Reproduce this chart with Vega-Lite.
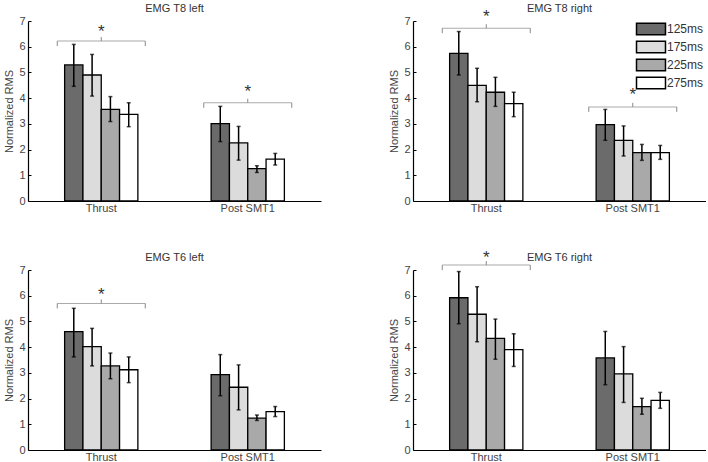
{
  "$schema": "https://vega.github.io/schema/vega-lite/v6.json",
  "padding": {"left": 3, "top": 2, "right": 0, "bottom": 0},
  "background": "white",
  "datasets": {
    "bars": [
      {"p": "T8L", "g": "Thrust", "c": "125ms", "m": 5.29, "lo": 4.46, "hi": 6.09},
      {"p": "T8L", "g": "Thrust", "c": "175ms", "m": 4.9, "lo": 4.08, "hi": 5.7},
      {"p": "T8L", "g": "Thrust", "c": "225ms", "m": 3.56, "lo": 3.09, "hi": 4.06},
      {"p": "T8L", "g": "Thrust", "c": "275ms", "m": 3.37, "lo": 2.89, "hi": 3.82},
      {"p": "T8L", "g": "Post SMT1", "c": "125ms", "m": 3.01, "lo": 2.31, "hi": 3.68},
      {"p": "T8L", "g": "Post SMT1", "c": "175ms", "m": 2.26, "lo": 1.59, "hi": 2.9},
      {"p": "T8L", "g": "Post SMT1", "c": "225ms", "m": 1.26, "lo": 1.11, "hi": 1.37},
      {"p": "T8L", "g": "Post SMT1", "c": "275ms", "m": 1.63, "lo": 1.4, "hi": 1.85},
      {"p": "T8R", "g": "Thrust", "c": "125ms", "m": 5.74, "lo": 4.9, "hi": 6.59},
      {"p": "T8R", "g": "Thrust", "c": "175ms", "m": 4.5, "lo": 3.86, "hi": 5.16},
      {"p": "T8R", "g": "Thrust", "c": "225ms", "m": 4.23, "lo": 3.68, "hi": 4.81},
      {"p": "T8R", "g": "Thrust", "c": "275ms", "m": 3.79, "lo": 3.28, "hi": 4.23},
      {"p": "T8R", "g": "Post SMT1", "c": "125ms", "m": 2.97, "lo": 2.36, "hi": 3.56},
      {"p": "T8R", "g": "Post SMT1", "c": "175ms", "m": 2.36, "lo": 1.75, "hi": 2.92},
      {"p": "T8R", "g": "Post SMT1", "c": "225ms", "m": 1.88, "lo": 1.58, "hi": 2.2},
      {"p": "T8R", "g": "Post SMT1", "c": "275ms", "m": 1.88, "lo": 1.62, "hi": 2.16},
      {"p": "T6L", "g": "Thrust", "c": "125ms", "m": 4.6, "lo": 3.62, "hi": 5.51},
      {"p": "T6L", "g": "Thrust", "c": "175ms", "m": 4.02, "lo": 3.27, "hi": 4.73},
      {"p": "T6L", "g": "Thrust", "c": "225ms", "m": 3.27, "lo": 2.77, "hi": 3.77},
      {"p": "T6L", "g": "Thrust", "c": "275ms", "m": 3.12, "lo": 2.62, "hi": 3.62},
      {"p": "T6L", "g": "Post SMT1", "c": "125ms", "m": 2.93, "lo": 2.11, "hi": 3.71},
      {"p": "T6L", "g": "Post SMT1", "c": "175ms", "m": 2.44, "lo": 1.56, "hi": 3.31},
      {"p": "T6L", "g": "Post SMT1", "c": "225ms", "m": 1.24, "lo": 1.15, "hi": 1.36},
      {"p": "T6L", "g": "Post SMT1", "c": "275ms", "m": 1.49, "lo": 1.3, "hi": 1.69},
      {"p": "T6R", "g": "Thrust", "c": "125ms", "m": 5.92, "lo": 4.91, "hi": 6.94},
      {"p": "T6R", "g": "Thrust", "c": "175ms", "m": 5.28, "lo": 4.21, "hi": 6.35},
      {"p": "T6R", "g": "Thrust", "c": "225ms", "m": 4.34, "lo": 3.53, "hi": 5.09},
      {"p": "T6R", "g": "Thrust", "c": "275ms", "m": 3.9, "lo": 3.25, "hi": 4.52},
      {"p": "T6R", "g": "Post SMT1", "c": "125ms", "m": 3.58, "lo": 2.54, "hi": 4.61},
      {"p": "T6R", "g": "Post SMT1", "c": "175ms", "m": 2.96, "lo": 1.85, "hi": 4.02},
      {"p": "T6R", "g": "Post SMT1", "c": "225ms", "m": 1.69, "lo": 1.39, "hi": 2.01},
      {"p": "T6R", "g": "Post SMT1", "c": "275ms", "m": 1.93, "lo": 1.62, "hi": 2.24}
    ],
    "sig": [
      {"p": "T8L", "g": "Thrust", "lv": 6.22, "ay": 6.77, "s": "*"},
      {"p": "T8L", "g": "Post SMT1", "lv": 3.82, "ay": 4.43, "s": "*"},
      {"p": "T8R", "g": "Thrust", "lv": 6.72, "ay": 7.35, "s": "*"},
      {"p": "T8R", "g": "Post SMT1", "lv": 3.66, "ay": 4.3, "s": "*"},
      {"p": "T6L", "g": "Thrust", "lv": 5.7, "ay": 6.22, "s": "*"},
      {"p": "T6R", "g": "Thrust", "lv": 7.19, "ay": 7.67, "s": "*"}
    ]
  },
  "columns": 2,
  "spacing": {"row": 69, "column": 92},
  "bounds": "flush",
  "resolve": {"legend": {"color": "independent"}},
  "concat": [
    {
      "title": {"text": "EMG T8 left", "offset": 1},
      "width": 293, "height": 180,
      "layer": [
        {"data": {"name": "bars"}, "transform": [{"filter": "datum.p == 'T8L'"}],
         "mark": {"type": "bar", "stroke": "black", "strokeWidth": 1.3},
         "encoding": {
           "x": {"field": "g", "type": "nominal", "sort": ["Thrust", "Post SMT1"], "scale": {"paddingInner": 0.5, "paddingOuter": 0.25}},
           "xOffset": {"field": "c", "type": "nominal", "scale": {"paddingInner": 0, "paddingOuter": 0}},
           "y": {"field": "m", "type": "quantitative", "scale": {"domain": [0, 7], "nice": false}, "axis": {"title": "Normalized RMS", "values": [0, 1, 2, 3, 4, 5, 6, 7]}},
           "color": {"field": "c", "type": "nominal", "scale": {"domain": ["125ms", "175ms", "225ms", "275ms"], "range": ["#6b6b6b", "#dcdcdc", "#a9a9a9", "#ffffff"]}, "legend": null}
         }},
        {"data": {"name": "bars"}, "transform": [{"filter": "datum.p == 'T8L'"}],
         "mark": {"type": "rule", "color": "black", "strokeWidth": 1.5},
         "encoding": {"x": {"field": "g", "type": "nominal", "sort": ["Thrust", "Post SMT1"]}, "xOffset": {"field": "c", "type": "nominal"}, "y": {"field": "lo", "type": "quantitative", "axis": {"title": "Normalized RMS", "values": [0, 1, 2, 3, 4, 5, 6, 7]}}, "y2": {"field": "hi"}}},
        {"data": {"name": "bars"}, "transform": [{"filter": "datum.p == 'T8L'"}],
         "mark": {"type": "tick", "color": "black", "size": 4, "thickness": 1.5},
         "encoding": {"x": {"field": "g", "type": "nominal", "sort": ["Thrust", "Post SMT1"]}, "xOffset": {"field": "c", "type": "nominal"}, "y": {"field": "lo", "type": "quantitative", "axis": {"title": "Normalized RMS", "values": [0, 1, 2, 3, 4, 5, 6, 7]}}}},
        {"data": {"name": "bars"}, "transform": [{"filter": "datum.p == 'T8L'"}],
         "mark": {"type": "tick", "color": "black", "size": 4, "thickness": 1.5},
         "encoding": {"x": {"field": "g", "type": "nominal", "sort": ["Thrust", "Post SMT1"]}, "xOffset": {"field": "c", "type": "nominal"}, "y": {"field": "hi", "type": "quantitative", "axis": {"title": "Normalized RMS", "values": [0, 1, 2, 3, 4, 5, 6, 7]}}}},
        {"data": {"name": "sig"}, "transform": [{"filter": "datum.p == 'T8L'"}],
         "layer": [
           {"mark": {"type": "tick", "color": "#888", "size": 88, "thickness": 1}},
           {"mark": {"type": "rule", "color": "#888", "strokeWidth": 1, "xOffset": -44, "y2Offset": 5}, "encoding": {"y2": {"field": "lv"}}},
           {"mark": {"type": "rule", "color": "#888", "strokeWidth": 1, "xOffset": 44, "y2Offset": 5}, "encoding": {"y2": {"field": "lv"}}},
           {"mark": {"type": "rule", "color": "#888", "strokeWidth": 1, "y2Offset": -4}, "encoding": {"y2": {"field": "lv"}}},
           {"mark": {"type": "text", "fontSize": 17, "color": "#333", "baseline": "middle", "dy": 5}, "encoding": {"y": {"field": "ay", "type": "quantitative"}, "text": {"field": "s"}}}
         ],
         "encoding": {"x": {"field": "g", "type": "nominal", "sort": ["Thrust", "Post SMT1"]}, "y": {"field": "lv", "type": "quantitative", "axis": {"title": "Normalized RMS", "values": [0, 1, 2, 3, 4, 5, 6, 7]}}}}
      ]
    },
    {
      "title": {"text": "EMG T8 right", "offset": -6},
      "width": 293, "height": 180,
      "layer": [
        {"data": {"name": "bars"}, "transform": [{"filter": "datum.p == 'T8R'"}],
         "mark": {"type": "bar", "stroke": "black", "strokeWidth": 1.3},
         "encoding": {
           "x": {"field": "g", "type": "nominal", "sort": ["Thrust", "Post SMT1"], "scale": {"paddingInner": 0.5, "paddingOuter": 0.25}},
           "xOffset": {"field": "c", "type": "nominal", "scale": {"paddingInner": 0, "paddingOuter": 0}},
           "y": {"field": "m", "type": "quantitative", "scale": {"domain": [0, 7], "nice": false}, "axis": {"title": "Normalized RMS", "values": [0, 1, 2, 3, 4, 5, 6, 7]}},
           "color": {"field": "c", "type": "nominal", "scale": {"domain": ["125ms", "175ms", "225ms", "275ms"], "range": ["#6b6b6b", "#dcdcdc", "#a9a9a9", "#ffffff"]},
             "legend": {"title": null, "orient": "none", "legendX": 230, "legendY": 0, "symbolType": "M-2,-0.8H2V0.8H-2Z", "symbolSize": 210, "symbolStrokeColor": "black", "symbolStrokeWidth": 1.5, "symbolOpacity": 1, "labelFontSize": 12, "labelColor": "#333", "labelOffset": 8, "rowPadding": 0, "padding": 0}}
         }},
        {"data": {"name": "bars"}, "transform": [{"filter": "datum.p == 'T8R'"}],
         "mark": {"type": "rule", "color": "black", "strokeWidth": 1.5},
         "encoding": {"x": {"field": "g", "type": "nominal", "sort": ["Thrust", "Post SMT1"]}, "xOffset": {"field": "c", "type": "nominal"}, "y": {"field": "lo", "type": "quantitative", "axis": {"title": "Normalized RMS", "values": [0, 1, 2, 3, 4, 5, 6, 7]}}, "y2": {"field": "hi"}}},
        {"data": {"name": "bars"}, "transform": [{"filter": "datum.p == 'T8R'"}],
         "mark": {"type": "tick", "color": "black", "size": 4, "thickness": 1.5},
         "encoding": {"x": {"field": "g", "type": "nominal", "sort": ["Thrust", "Post SMT1"]}, "xOffset": {"field": "c", "type": "nominal"}, "y": {"field": "lo", "type": "quantitative", "axis": {"title": "Normalized RMS", "values": [0, 1, 2, 3, 4, 5, 6, 7]}}}},
        {"data": {"name": "bars"}, "transform": [{"filter": "datum.p == 'T8R'"}],
         "mark": {"type": "tick", "color": "black", "size": 4, "thickness": 1.5},
         "encoding": {"x": {"field": "g", "type": "nominal", "sort": ["Thrust", "Post SMT1"]}, "xOffset": {"field": "c", "type": "nominal"}, "y": {"field": "hi", "type": "quantitative", "axis": {"title": "Normalized RMS", "values": [0, 1, 2, 3, 4, 5, 6, 7]}}}},
        {"data": {"name": "sig"}, "transform": [{"filter": "datum.p == 'T8R'"}],
         "layer": [
           {"mark": {"type": "tick", "color": "#888", "size": 88, "thickness": 1}},
           {"mark": {"type": "rule", "color": "#888", "strokeWidth": 1, "xOffset": -44, "y2Offset": 5}, "encoding": {"y2": {"field": "lv"}}},
           {"mark": {"type": "rule", "color": "#888", "strokeWidth": 1, "xOffset": 44, "y2Offset": 5}, "encoding": {"y2": {"field": "lv"}}},
           {"mark": {"type": "rule", "color": "#888", "strokeWidth": 1, "y2Offset": -4}, "encoding": {"y2": {"field": "lv"}}},
           {"mark": {"type": "text", "fontSize": 17, "color": "#333", "baseline": "middle", "dy": 5}, "encoding": {"y": {"field": "ay", "type": "quantitative"}, "text": {"field": "s"}}}
         ],
         "encoding": {"x": {"field": "g", "type": "nominal", "sort": ["Thrust", "Post SMT1"]}, "y": {"field": "lv", "type": "quantitative", "axis": {"title": "Normalized RMS", "values": [0, 1, 2, 3, 4, 5, 6, 7]}}}}
      ]
    },
    {
      "title": {"text": "EMG T6 left", "offset": 1},
      "width": 293, "height": 180,
      "layer": [
        {"data": {"name": "bars"}, "transform": [{"filter": "datum.p == 'T6L'"}],
         "mark": {"type": "bar", "stroke": "black", "strokeWidth": 1.3},
         "encoding": {
           "x": {"field": "g", "type": "nominal", "sort": ["Thrust", "Post SMT1"], "scale": {"paddingInner": 0.5, "paddingOuter": 0.25}},
           "xOffset": {"field": "c", "type": "nominal", "scale": {"paddingInner": 0, "paddingOuter": 0}},
           "y": {"field": "m", "type": "quantitative", "scale": {"domain": [0, 7], "nice": false}, "axis": {"title": "Normalized RMS", "values": [0, 1, 2, 3, 4, 5, 6, 7]}},
           "color": {"field": "c", "type": "nominal", "scale": {"domain": ["125ms", "175ms", "225ms", "275ms"], "range": ["#6b6b6b", "#dcdcdc", "#a9a9a9", "#ffffff"]}, "legend": null}
         }},
        {"data": {"name": "bars"}, "transform": [{"filter": "datum.p == 'T6L'"}],
         "mark": {"type": "rule", "color": "black", "strokeWidth": 1.5},
         "encoding": {"x": {"field": "g", "type": "nominal", "sort": ["Thrust", "Post SMT1"]}, "xOffset": {"field": "c", "type": "nominal"}, "y": {"field": "lo", "type": "quantitative", "axis": {"title": "Normalized RMS", "values": [0, 1, 2, 3, 4, 5, 6, 7]}}, "y2": {"field": "hi"}}},
        {"data": {"name": "bars"}, "transform": [{"filter": "datum.p == 'T6L'"}],
         "mark": {"type": "tick", "color": "black", "size": 4, "thickness": 1.5},
         "encoding": {"x": {"field": "g", "type": "nominal", "sort": ["Thrust", "Post SMT1"]}, "xOffset": {"field": "c", "type": "nominal"}, "y": {"field": "lo", "type": "quantitative", "axis": {"title": "Normalized RMS", "values": [0, 1, 2, 3, 4, 5, 6, 7]}}}},
        {"data": {"name": "bars"}, "transform": [{"filter": "datum.p == 'T6L'"}],
         "mark": {"type": "tick", "color": "black", "size": 4, "thickness": 1.5},
         "encoding": {"x": {"field": "g", "type": "nominal", "sort": ["Thrust", "Post SMT1"]}, "xOffset": {"field": "c", "type": "nominal"}, "y": {"field": "hi", "type": "quantitative", "axis": {"title": "Normalized RMS", "values": [0, 1, 2, 3, 4, 5, 6, 7]}}}},
        {"data": {"name": "sig"}, "transform": [{"filter": "datum.p == 'T6L'"}],
         "layer": [
           {"mark": {"type": "tick", "color": "#888", "size": 88, "thickness": 1}},
           {"mark": {"type": "rule", "color": "#888", "strokeWidth": 1, "xOffset": -44, "y2Offset": 5}, "encoding": {"y2": {"field": "lv"}}},
           {"mark": {"type": "rule", "color": "#888", "strokeWidth": 1, "xOffset": 44, "y2Offset": 5}, "encoding": {"y2": {"field": "lv"}}},
           {"mark": {"type": "rule", "color": "#888", "strokeWidth": 1, "y2Offset": -4}, "encoding": {"y2": {"field": "lv"}}},
           {"mark": {"type": "text", "fontSize": 17, "color": "#333", "baseline": "middle", "dy": 5}, "encoding": {"y": {"field": "ay", "type": "quantitative"}, "text": {"field": "s"}}}
         ],
         "encoding": {"x": {"field": "g", "type": "nominal", "sort": ["Thrust", "Post SMT1"]}, "y": {"field": "lv", "type": "quantitative", "axis": {"title": "Normalized RMS", "values": [0, 1, 2, 3, 4, 5, 6, 7]}}}}
      ]
    },
    {
      "title": {"text": "EMG T6 right", "offset": -14},
      "width": 293, "height": 180,
      "layer": [
        {"data": {"name": "bars"}, "transform": [{"filter": "datum.p == 'T6R'"}],
         "mark": {"type": "bar", "stroke": "black", "strokeWidth": 1.3},
         "encoding": {
           "x": {"field": "g", "type": "nominal", "sort": ["Thrust", "Post SMT1"], "scale": {"paddingInner": 0.5, "paddingOuter": 0.25}},
           "xOffset": {"field": "c", "type": "nominal", "scale": {"paddingInner": 0, "paddingOuter": 0}},
           "y": {"field": "m", "type": "quantitative", "scale": {"domain": [0, 7], "nice": false}, "axis": {"title": "Normalized RMS", "values": [0, 1, 2, 3, 4, 5, 6, 7]}},
           "color": {"field": "c", "type": "nominal", "scale": {"domain": ["125ms", "175ms", "225ms", "275ms"], "range": ["#6b6b6b", "#dcdcdc", "#a9a9a9", "#ffffff"]}, "legend": null}
         }},
        {"data": {"name": "bars"}, "transform": [{"filter": "datum.p == 'T6R'"}],
         "mark": {"type": "rule", "color": "black", "strokeWidth": 1.5},
         "encoding": {"x": {"field": "g", "type": "nominal", "sort": ["Thrust", "Post SMT1"]}, "xOffset": {"field": "c", "type": "nominal"}, "y": {"field": "lo", "type": "quantitative", "axis": {"title": "Normalized RMS", "values": [0, 1, 2, 3, 4, 5, 6, 7]}}, "y2": {"field": "hi"}}},
        {"data": {"name": "bars"}, "transform": [{"filter": "datum.p == 'T6R'"}],
         "mark": {"type": "tick", "color": "black", "size": 4, "thickness": 1.5},
         "encoding": {"x": {"field": "g", "type": "nominal", "sort": ["Thrust", "Post SMT1"]}, "xOffset": {"field": "c", "type": "nominal"}, "y": {"field": "lo", "type": "quantitative", "axis": {"title": "Normalized RMS", "values": [0, 1, 2, 3, 4, 5, 6, 7]}}}},
        {"data": {"name": "bars"}, "transform": [{"filter": "datum.p == 'T6R'"}],
         "mark": {"type": "tick", "color": "black", "size": 4, "thickness": 1.5},
         "encoding": {"x": {"field": "g", "type": "nominal", "sort": ["Thrust", "Post SMT1"]}, "xOffset": {"field": "c", "type": "nominal"}, "y": {"field": "hi", "type": "quantitative", "axis": {"title": "Normalized RMS", "values": [0, 1, 2, 3, 4, 5, 6, 7]}}}},
        {"data": {"name": "sig"}, "transform": [{"filter": "datum.p == 'T6R'"}],
         "layer": [
           {"mark": {"type": "tick", "color": "#888", "size": 88, "thickness": 1}},
           {"mark": {"type": "rule", "color": "#888", "strokeWidth": 1, "xOffset": -44, "y2Offset": 5}, "encoding": {"y2": {"field": "lv"}}},
           {"mark": {"type": "rule", "color": "#888", "strokeWidth": 1, "xOffset": 44, "y2Offset": 5}, "encoding": {"y2": {"field": "lv"}}},
           {"mark": {"type": "rule", "color": "#888", "strokeWidth": 1, "y2Offset": -4}, "encoding": {"y2": {"field": "lv"}}},
           {"mark": {"type": "text", "fontSize": 17, "color": "#333", "baseline": "middle", "dy": 5}, "encoding": {"y": {"field": "ay", "type": "quantitative"}, "text": {"field": "s"}}}
         ],
         "encoding": {"x": {"field": "g", "type": "nominal", "sort": ["Thrust", "Post SMT1"]}, "y": {"field": "lv", "type": "quantitative", "axis": {"title": "Normalized RMS", "values": [0, 1, 2, 3, 4, 5, 6, 7]}}}}
      ]
    }
  ],
  "config": {
    "font": "Liberation Sans",
    "view": {"stroke": null},
    "axis": {"grid": false, "domainColor": "black", "domainWidth": 1.2, "labelColor": "#444", "labelFontSize": 11, "titleFontSize": 11, "titleFontWeight": "normal", "titleColor": "#444", "labelFont": "Liberation Sans", "titleFont": "Liberation Sans"},
    "axisX": {"ticks": false, "labelAngle": 0, "title": null, "labelPadding": 1},
    "axisY": {"tickSize": -3, "tickColor": "black", "labelPadding": 6, "titlePadding": 4, "tickCount": 8},
    "title": {"fontSize": 11, "fontWeight": "normal", "color": "#333", "font": "Liberation Sans"},
    "legend": {"labelFont": "Liberation Sans"}
  }
}
